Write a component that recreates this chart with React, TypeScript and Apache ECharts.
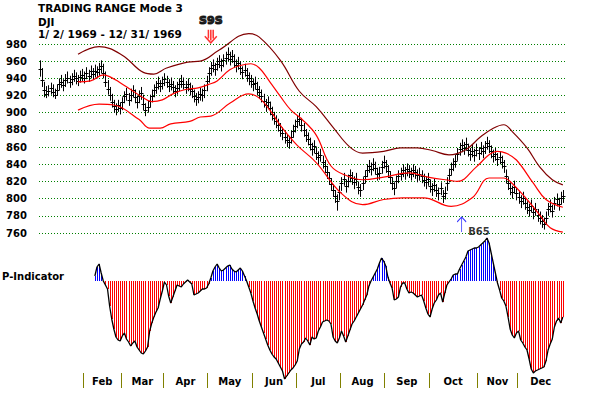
import React, { useEffect, useRef } from 'react';
import * as echarts from 'echarts';

// Daily bars [low, high, close] per month of 1969 (trading days)
const jan: number[][] = [
  [942, 961, 951], [930, 952, 938], [918, 936, 926], [917, 931, 922], [919, 932, 925], [921, 935, 929], [918, 933, 924],
  [916, 928, 921], [920, 933, 927], [926, 940, 933], [929, 944, 936], [925, 939, 932], [930, 945, 938], [934, 948, 941],
  [929, 943, 936], [932, 946, 939], [936, 950, 943], [933, 947, 940], [931, 944, 937], [935, 949, 942], [937, 951, 944],
];
const feb: number[][] = [
  [934, 948, 941], [939, 953, 946], [936, 950, 943], [940, 955, 948], [938, 952, 945], [941, 956, 949], [940, 954, 947],
  [943, 958, 951], [946, 961, 954], [940, 957, 946], [930, 948, 936], [921, 938, 928], [914, 930, 921], [906, 922, 913],
  [900, 915, 908], [897, 911, 904], [901, 915, 909], [898, 912, 905],
];
const mar: number[][] = [
  [903, 918, 912], [911, 925, 919], [914, 929, 922], [908, 923, 915], [913, 928, 921], [918, 932, 926], [911, 927, 918],
  [905, 920, 912], [911, 926, 919], [915, 930, 923], [903, 921, 910], [896, 911, 903], [900, 914, 907], [906, 921, 914],
  [912, 927, 920], [918, 933, 926], [922, 937, 930], [927, 942, 935], [924, 938, 931], [927, 942, 935],
];
const apr: number[][] = [
  [931, 946, 939], [929, 943, 936], [924, 939, 931], [926, 941, 934], [922, 937, 930], [918, 932, 925], [921, 936, 929],
  [925, 940, 933], [929, 944, 937], [927, 941, 934], [922, 937, 930], [925, 940, 933], [920, 935, 928], [917, 932, 925],
  [912, 927, 920], [908, 923, 916], [911, 925, 918], [914, 929, 922], [913, 928, 921], [917, 933, 926], [925, 943, 937],
];
const may: number[][] = [
  [935, 953, 946], [943, 959, 952], [947, 962, 955], [943, 958, 951], [949, 964, 957], [952, 967, 960], [948, 963, 956],
  [953, 968, 961], [956, 971, 964], [960, 976, 968], [955, 971, 963], [958, 973, 966], [952, 968, 960], [947, 962, 955],
  [950, 965, 958], [944, 960, 952], [939, 954, 947], [942, 957, 950], [936, 952, 944], [932, 947, 940], [929, 944, 937],
];
const jun: number[][] = [
  [925, 940, 933], [927, 942, 935], [920, 936, 928], [916, 931, 924], [912, 927, 920], [906, 922, 914], [901, 916, 909],
  [904, 919, 912], [897, 913, 905], [891, 907, 899], [886, 901, 894], [882, 897, 890], [878, 893, 886], [872, 888, 880],
  [868, 883, 876], [864, 879, 872], [860, 875, 868], [858, 873, 866], [864, 879, 872], [871, 886, 879], [877, 892, 885],
];
const jul: number[][] = [
  [882, 897, 890], [885, 900, 893], [878, 894, 886], [872, 888, 880], [866, 881, 874], [862, 877, 870], [856, 871, 864],
  [850, 865, 858], [853, 868, 861], [845, 860, 853], [840, 855, 848], [843, 858, 851], [835, 850, 843], [830, 845, 838],
  [823, 838, 831], [816, 831, 824], [809, 824, 817], [802, 817, 810], [795, 810, 803], [786, 805, 797], [798, 815, 808],
];
const aug: number[][] = [
  [809, 825, 818], [815, 830, 823], [807, 822, 815], [813, 828, 821], [819, 834, 827], [816, 831, 824], [811, 826, 819],
  [815, 830, 823], [805, 820, 813], [802, 817, 810], [810, 825, 818], [818, 833, 826], [825, 840, 833], [830, 845, 838],
  [827, 842, 835], [832, 847, 840], [828, 843, 836], [821, 836, 829], [822, 837, 830], [829, 844, 837], [835, 850, 843],
];
const sep: number[][] = [
  [830, 845, 838], [824, 839, 832], [817, 832, 825], [810, 825, 818], [804, 819, 812], [812, 827, 820], [818, 833, 826],
  [821, 836, 829], [825, 840, 833], [822, 837, 830], [826, 841, 834], [824, 839, 832], [821, 836, 829], [825, 840, 833],
  [823, 838, 831], [819, 834, 827], [821, 836, 829], [818, 833, 826], [814, 829, 822], [811, 826, 819], [815, 830, 823],
];
const oct: number[][] = [
  [807, 822, 815], [803, 818, 811], [808, 823, 816], [802, 817, 810], [798, 813, 806], [804, 819, 812], [795, 810, 803],
  [799, 814, 807], [809, 825, 818], [819, 835, 828], [827, 842, 835], [832, 847, 840], [836, 851, 844], [844, 859, 852],
  [850, 865, 858], [854, 869, 862], [851, 866, 859], [856, 871, 864], [849, 864, 857], [844, 859, 852], [848, 863, 856],
  [843, 858, 851], [849, 864, 857],
];
const nov: number[][] = [
  [845, 860, 853], [851, 866, 859], [847, 862, 855], [852, 867, 860], [857, 872, 865], [853, 868, 861], [847, 862, 855],
  [842, 857, 850], [844, 859, 852], [838, 853, 846], [840, 855, 848], [835, 850, 843], [830, 845, 838], [818, 834, 826],
  [810, 825, 818], [804, 819, 812], [800, 815, 808], [806, 821, 814], [798, 813, 806],
];
const dec: number[][] = [
  [794, 809, 802], [789, 804, 797], [793, 808, 801], [787, 802, 795], [782, 797, 790], [779, 794, 787], [784, 799, 792],
  [776, 791, 784], [780, 795, 788], [773, 788, 781], [770, 785, 778], [766, 781, 774], [764, 778, 770], [770, 785, 778],
  [780, 795, 788], [784, 799, 792], [778, 793, 786], [787, 802, 795], [791, 806, 799], [786, 801, 794], [793, 808, 801],
  [795, 810, 803],
];

const monthNames = ['Jan', 'Feb', 'Mar', 'Apr', 'May', 'Jun', 'Jul', 'Aug', 'Sep', 'Oct', 'Nov', 'Dec'];
const monthBars = [jan, feb, mar, apr, may, jun, jul, aug, sep, oct, nov, dec];

// Trading range bands: [trading-day index, value]
const upperBand: number[][] = [
  [18, 968], [28, 977], [39, 967], [49, 947], [54, 945], [60, 952], [70, 959], [76, 960], [85, 973], [99, 992],
  [104, 988], [114, 961], [123, 925], [131, 907], [139, 883], [147, 860], [153, 853], [163, 855], [171, 859],
  [179, 859], [186, 856], [194, 851], [202, 857], [209, 872], [215, 882], [220, 886], [224, 878], [231, 859],
  [237, 837], [243, 822], [248, 816],
];
const middleBand: number[][] = [
  [18, 936], [24, 937], [30, 944], [33, 942], [38, 935], [43, 927], [48, 919], [53, 913], [58, 915], [63, 922],
  [69, 927], [75, 929], [80, 933], [84, 937], [90, 950], [95, 955], [100, 957], [104, 952], [109, 936], [114, 919],
  [119, 903], [124, 893], [131, 874], [138, 838], [146, 826], [153, 822], [163, 825], [175, 830], [184, 825],
  [195, 821], [198, 820], [207, 837], [213, 851], [217, 855], [221, 853], [226, 845], [234, 818], [240, 799],
  [248, 790],
];
const lowerBand: number[][] = [
  [18, 903], [28, 910], [35, 909], [47, 892], [52, 882], [57, 882], [62, 887], [71, 890], [76, 895], [81, 896],
  [90, 911], [99, 922], [104, 917], [109, 903], [115, 882], [122, 862], [131, 842], [143, 806], [153, 793],
  [163, 799], [172, 801], [182, 801], [195, 791], [205, 801], [213, 824], [220, 824], [223, 820], [231, 799],
  [237, 781], [242, 766], [248, 761],
];

// P-Indicator, one value per trading day starting at day index P_START
const P_START = 26;
const pIndicator: number[] = [
  5, 14, 17, 8, 0, -4, -8, -25, -38, -48, -56, -59, -60, -55, -52, -58, -61, -65, -62, -60, -66, -69, -72, -73, -70,
  -66, -50, -42, -36, -31, -27, -18, -10, -1, -4, -15, -22, -16, -10, -4, -5, -6, -3, -1, 1, -1, -3, -14, -13, -12,
  -10, -8, -8, -7, -3, 3, 10, 14, 17, 13, 10, 11, 13, 15, 16, 12, 10, 9, 11, 13, 10, 5, 0, -6, -12, -20, -27, -33,
  -40, -46, -52, -58, -64, -69, -73, -76, -78, -82, -86, -90, -98, -95, -92, -89, -87, -84, -80, -68, -63, -61, -57,
  -60, -64, -56, -58, -57, -50, -46, -41, -40, -39, -40, -43, -56, -60, -62, -57, -50, -55, -61, -55, -49, -43, -40,
  -36, -32, -28, -24, -19, -14, -5, 0, 4, 8, 12, 18, 23, 20, 15, 4, -2, -7, -19, -18, -16, -6, -2, -2, -8, -12, -11,
  -12, -14, -16, -15, -14, -20, -27, -33, -36, -28, -22, -19, -14, -12, -21, -12, -4, -1, 2, 6, 7, 7, 12, 16, 20, 24,
  30, 31, 32, 33, 33, 34, 36, 38, 40, 43, 38, 28, 18, 8, -2, -9, -17, -20, -25, -36, -48, -54, -57, -52, -50, -59,
  -62, -66, -69, -78, -88, -92, -90, -89, -88, -87, -86, -80, -69, -63, -58, -46, -40, -37, -42, -36,
];

// Signals: [day index, value]
const sellSignal = [81, 989];
const buySignal = [200, 770];
const pSignal = [212, 43];

const FONT = '"DejaVu Sans", sans-serif';

export default function App() {
  const ref = useRef<HTMLDivElement>(null);

  useEffect(() => {
    const chart = echarts.init(ref.current!, null, { renderer: 'svg' });

    const priceData: number[][] = [];
    const monthStarts: number[] = [];
    monthBars.forEach((m) => {
      monthStarts.push(priceData.length);
      m.forEach((b) => priceData.push([priceData.length, b[0], b[1], b[2]]));
    });
    const total = priceData.length;
    const tickVals = monthStarts.slice(1).map((s) => s - 0.5);
    const labelInfo = monthStarts.slice(1).map((s, k) => {
      const end = k + 2 < monthStarts.length ? monthStarts[k + 2] : total;
      return { v: (s + end - 1) / 2, name: monthNames[k + 1] };
    });
    const pData = pIndicator.map((v, k) => [P_START + k, v]);

    const xMin = -0.5;
    const xMax = total + 0.5;

    const option: any = {
      animation: false,
      backgroundColor: '#ffffff',
      textStyle: { fontFamily: FONT },
      grid: [
        { left: 39, top: 44, width: 527, height: 189 },
        { left: 39, top: 236, width: 527, height: 145 },
        { left: 39, top: 372, width: 527, height: 1 },
      ],
      xAxis: [
        { gridIndex: 0, type: 'value', min: xMin, max: xMax, show: false },
        { gridIndex: 1, type: 'value', min: xMin, max: xMax, show: false },
        {
          gridIndex: 2,
          type: 'value',
          min: xMin,
          max: xMax,
          axisLine: { show: false },
          splitLine: { show: false },
          axisTick: { show: true, length: 15, customValues: tickVals, lineStyle: { color: '#808000', width: 1 } },
          axisLabel: {
            customValues: labelInfo.map((l) => l.v),
            formatter: (v: number) => {
              const m = labelInfo.find((l) => Math.abs(l.v - v) < 0.01);
              return m ? m.name : '';
            },
            margin: 3,
            fontFamily: FONT,
            fontWeight: 'bold',
            fontSize: 10,
            color: '#000',
          },
        },
      ],
      yAxis: [
        {
          gridIndex: 0,
          type: 'value',
          min: 760,
          max: 980,
          interval: 20,
          axisLine: { show: false },
          axisTick: { show: false },
          axisLabel: { align: 'left', margin: 33, fontFamily: FONT, fontWeight: 'bold', fontSize: 10, color: '#000' },
          splitLine: { lineStyle: { color: '#008000', type: [1, 2], width: 1 } },
        },
        { gridIndex: 1, type: 'value', min: -100, max: 45, show: false },
        { gridIndex: 2, type: 'value', min: 0, max: 1, show: false },
      ],
      graphic: [
        { type: 'text', left: 38, top: 2, style: { text: 'TRADING RANGE Mode 3', font: `bold 10.5px ${FONT}`, fill: '#000' } },
        { type: 'text', left: 38, top: 16, style: { text: 'DJI', font: `bold 10.5px ${FONT}`, fill: '#000' } },
        { type: 'text', left: 38, top: 28, style: { text: '1/ 2/ 1969 - 12/ 31/ 1969', font: `bold 10.5px ${FONT}`, fill: '#000' } },
        { type: 'text', left: 2, top: 271, style: { text: 'P-Indicator', font: `bold 10px ${FONT}`, fill: '#000' } },
      ],
      series: [
        {
          type: 'line', xAxisIndex: 0, yAxisIndex: 0, data: upperBand, smooth: 0.4, symbol: 'none', clip: false,
          lineStyle: { color: '#800000', width: 1.2 },
        },
        {
          type: 'line', xAxisIndex: 0, yAxisIndex: 0, data: middleBand, smooth: 0.4, symbol: 'none', clip: false,
          lineStyle: { color: '#ff0000', width: 1.2 },
        },
        {
          type: 'line', xAxisIndex: 0, yAxisIndex: 0, data: lowerBand, smooth: 0.4, symbol: 'none', clip: false,
          lineStyle: { color: '#ff0000', width: 1.2 },
        },
        {
          type: 'custom',
          xAxisIndex: 0,
          yAxisIndex: 0,
          data: priceData,
          encode: { x: 0, y: [1, 2, 3] },
          renderItem: (params: any, api: any) => {
            const i = api.value(0);
            const pLo = api.coord([i, api.value(1)]);
            const pHi = api.coord([i, api.value(2)]);
            const pC = api.coord([i, api.value(3)]);
            const x = Math.round(pHi[0]) + 0.5;
            const yc = Math.round(pC[1]) + 0.5;
            return {
              type: 'group',
              children: [
                { type: 'line', shape: { x1: x, y1: pHi[1], x2: x, y2: pLo[1] }, style: { stroke: '#000', lineWidth: 1 } },
                { type: 'line', shape: { x1: x - 2, y1: yc, x2: x + 2, y2: yc }, style: { stroke: '#000', lineWidth: 1 } },
              ],
            };
          },
        },
        {
          type: 'scatter',
          xAxisIndex: 0,
          yAxisIndex: 0,
          clip: false,
          data: [sellSignal],
          symbol: 'path://M3,0L3,8M5,0L5,10M7,0L7,8M0,6L5,12L10,6',
          symbolSize: [12, 13],
          itemStyle: { color: 'transparent', borderColor: '#ff0000', borderWidth: 1.6 },
          label: {
            show: true,
            position: 'top',
            distance: 3,
            formatter: 'S9S',
            fontFamily: FONT,
            fontWeight: 'bold',
            fontSize: 11,
            color: '#000',
            textBorderColor: '#000',
            textBorderWidth: 1.2,
          },
        },
        {
          type: 'scatter',
          xAxisIndex: 0,
          yAxisIndex: 0,
          clip: false,
          data: [buySignal],
          symbol: 'path://M5,0L5,15M1,5L5,0L9,5',
          symbolSize: [9, 15],
          itemStyle: { color: 'transparent', borderColor: '#0000ff', borderWidth: 1 },
        },
        {
          type: 'custom',
          xAxisIndex: 1,
          yAxisIndex: 1,
          data: pData,
          encode: { x: 0, y: 1 },
          renderItem: (params: any, api: any) => {
            const i = api.value(0);
            const v = api.value(1);
            const p0 = api.coord([i, 0]);
            const p1 = api.coord([i, v]);
            const x = Math.round(p0[0]) + 0.5;
            return {
              type: 'line',
              shape: { x1: x, y1: p0[1], x2: x, y2: p1[1] },
              style: { stroke: v >= 0 ? '#0000ff' : '#ff0000', lineWidth: 1 },
            };
          },
        },
        {
          type: 'line',
          xAxisIndex: 1,
          yAxisIndex: 1,
          data: pData,
          symbol: 'none',
          clip: false,
          lineStyle: { color: '#000', width: 1.3 },
        },
        {
          type: 'scatter',
          xAxisIndex: 1,
          yAxisIndex: 1,
          clip: false,
          data: [pSignal],
          symbolSize: 0,
          label: {
            show: true,
            position: 'inside',
            offset: [-8, -7],
            formatter: 'B65',
            fontFamily: FONT,
            fontWeight: 'bold',
            fontSize: 10,
            color: '#000',
          },
        },
      ],
    };

    chart.setOption(option);
    return () => chart.dispose();
  }, []);

  return <div ref={ref} style={{ position: 'absolute', left: 0, top: 0, width: 598, height: 397 }} />;
}
